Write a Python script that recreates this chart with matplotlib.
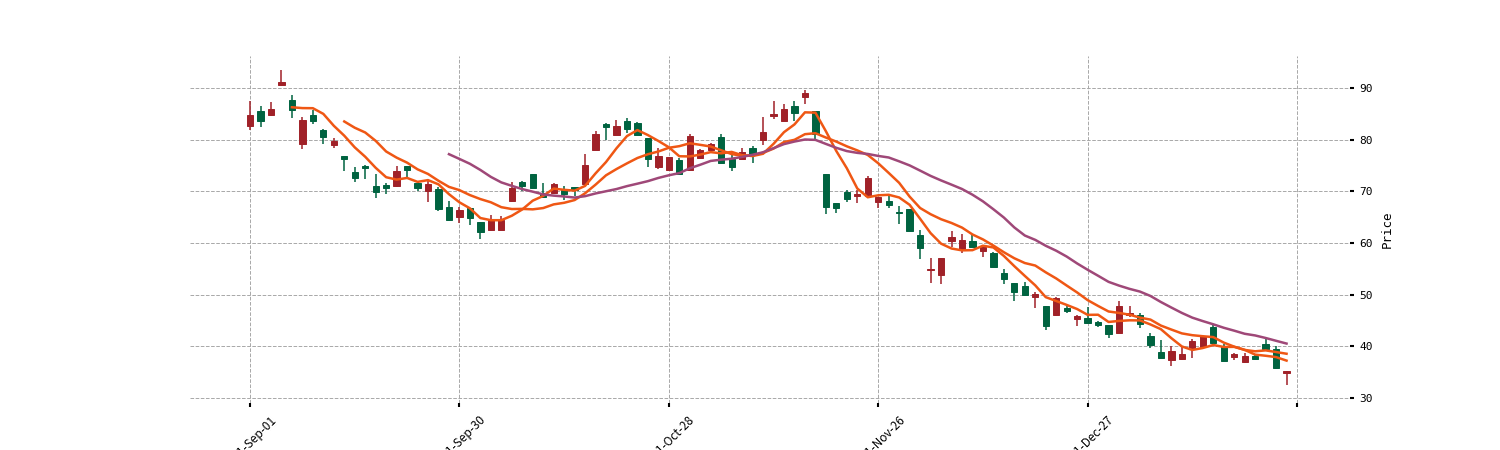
import matplotlib
matplotlib.use("Agg")
import matplotlib.pyplot as plt
import numpy as np
import pandas as pd
from matplotlib.patches import Rectangle

plt.rcParams['font.family'] = ['DejaVu Sans Mono', 'Noto Sans CJK SC', 'DejaVu Sans']

# ---------------- data ----------------
opens = [82.6, 85.6, 84.8, 90.6, 87.7, 79.2, 84.8, 81.8, 78.9, 76.9,
         73.8, 74.9, 71.1, 71.2, 71.1, 74.9, 71.6, 70.0, 70.5, 66.9,
         65.0, 66.8, 64.1, 62.6, 62.6, 68.1, 71.8, 73.3, 69.6, 69.7,
         70.2, 70.9, 71.5, 78.1, 83.1, 80.9, 83.6, 83.2, 80.3, 74.7,
         74.2, 76.0, 74.1, 76.5, 78.1, 80.5, 76.3, 76.3, 78.3, 79.9,
         84.5, 83.7, 86.6, 88.2, 85.5, 73.3, 67.8, 69.9, 69.1, 69.2,
         67.9, 68.1, 66.1, 66.5, 61.6, 54.8, 53.8, 60.4, 58.9, 60.4,
         58.5, 58.1, 54.2, 52.3, 51.7, 49.5, 47.8, 46.0, 47.4, 45.2,
         45.5, 44.8, 44.1, 42.6, 46.0, 46.0, 42.1, 38.9, 37.3, 37.6,
         39.5, 39.9, 43.7, 40.0, 37.9, 37.0, 38.1, 40.4, 39.5, 34.9]
closes = [84.7, 83.7, 86.0, 91.2, 85.8, 83.9, 83.6, 80.5, 79.7, 76.2,
          72.6, 74.5, 69.8, 70.6, 73.9, 74.2, 70.7, 71.5, 66.5, 64.4,
          66.3, 64.9, 62.1, 64.4, 64.4, 70.6, 71.0, 70.6, 69.0, 71.5,
          69.4, 70.2, 75.2, 81.1, 82.5, 82.7, 82.0, 81.0, 76.3, 76.8,
          76.6, 73.3, 80.8, 78.1, 79.2, 75.4, 74.7, 77.6, 77.3, 81.4,
          85.0, 86.0, 85.1, 89.0, 81.1, 67.0, 66.8, 68.5, 69.4, 72.6,
          68.9, 67.3, 65.9, 62.3, 59.1, 55.0, 57.1, 61.2, 60.5, 59.3,
          59.3, 55.4, 53.0, 50.6, 49.9, 50.1, 44.0, 49.3, 46.8, 45.9,
          44.5, 44.1, 42.3, 47.8, 46.5, 44.4, 40.2, 37.7, 39.1, 38.5,
          41.0, 42.1, 40.6, 37.2, 38.6, 38.1, 37.5, 39.5, 35.9, 35.2]
highs = [87.4, 86.5, 87.3, 93.5, 88.7, 84.4, 85.8, 82.1, 80.3, 76.9,
         74.7, 75.1, 73.4, 71.6, 74.9, 74.9, 72.0, 72.0, 70.8, 68.1,
         66.9, 66.8, 64.1, 65.5, 65.2, 71.8, 72.1, 73.3, 71.7, 71.6,
         71.0, 70.9, 77.3, 81.6, 83.2, 83.9, 84.2, 83.4, 80.3, 78.4,
         76.6, 76.5, 81.2, 78.2, 79.4, 81.2, 77.1, 78.4, 78.7, 84.4,
         87.4, 86.9, 87.4, 89.6, 85.5, 73.3, 67.8, 70.2, 70.2, 72.9,
         68.9, 69.2, 67.1, 66.5, 62.6, 57.1, 57.1, 62.3, 61.8, 61.5,
         59.6, 58.3, 54.9, 52.3, 52.5, 50.6, 47.8, 49.6, 47.9, 46.0,
         47.6, 45.0, 44.1, 48.8, 47.9, 46.5, 42.6, 41.2, 40.0, 39.9,
         41.5, 42.1, 44.1, 40.5, 38.7, 38.7, 38.6, 41.7, 40.0, 35.2]
lows = [81.8, 82.5, 84.5, 90.4, 84.2, 78.2, 83.0, 79.2, 78.4, 74.0,
        71.8, 72.4, 68.8, 69.5, 70.9, 72.3, 70.0, 68.0, 66.2, 64.2,
        63.9, 63.4, 60.7, 62.3, 62.6, 67.9, 70.0, 70.6, 68.8, 69.4,
        68.3, 69.1, 71.5, 78.0, 79.9, 80.9, 81.3, 81.0, 74.7, 74.4,
        74.1, 73.1, 74.1, 76.3, 77.8, 75.4, 73.9, 76.2, 75.5, 78.9,
        84.0, 83.7, 83.7, 86.9, 80.2, 65.7, 65.8, 67.9, 67.8, 68.9,
        66.7, 66.7, 63.6, 62.3, 57.0, 52.2, 52.1, 59.3, 58.0, 59.3,
        57.3, 55.3, 52.1, 48.8, 49.7, 47.4, 43.2, 45.8, 46.5, 43.9,
        44.4, 43.7, 41.7, 42.6, 45.7, 43.6, 39.7, 37.7, 36.1, 37.3,
        37.8, 39.7, 40.5, 37.2, 37.4, 36.8, 37.5, 39.4, 35.7, 32.5]

mav_windows = [5, 10, 20]
mav_colors = ['#ef5714', '#ef5714', '#9f4878']
up_color = '#a02128'
down_color = '#006340'

# NYSE trading days from 2021-09-01
holidays = ['2021-09-06', '2021-11-25', '2021-12-24']
dates = pd.bdate_range('2021-09-01', periods=len(closes) + 1, freq='C',
                       holidays=holidays)
tick_step = 20

# ---------------- figure ----------------
fig = plt.figure(figsize=(15, 4.5), dpi=100)
ax = fig.add_axes([0.1267, 0.1044, 0.7733, 0.7711])

n = len(closes)
xs = np.arange(n)
body_w = 0.6
for i in range(n):
    o, c, h, l = opens[i], closes[i], highs[i], lows[i]
    col = up_color if c >= o else down_color
    ax.vlines(i, l, h, color=col, linewidth=1.1, zorder=2)
    ax.add_patch(Rectangle((i - body_w / 2, min(o, c)), body_w, abs(c - o),
                           facecolor=col, edgecolor=col, linewidth=0.7,
                           zorder=3))

cs = pd.Series(closes)
for w, col in zip(mav_windows, mav_colors):
    ma = cs.rolling(w).mean()
    ax.plot(xs, ma.values, color=col, linewidth=1.8, zorder=4)

ax.set_xlim(-5.73, 105.06)
ax.set_ylim(29.03, 96.2)

ticks = list(range(0, n + 1, tick_step))
labels = [dates[t].strftime('%Y-%b-%d') if t < n else '' for t in ticks]
ax.set_xticks(ticks)
ax.set_xticklabels(labels, rotation=45, ha='center', fontsize=8.5,
                   family=['Noto Sans CJK SC', 'DejaVu Sans'])

ax.yaxis.tick_right()
ax.yaxis.set_label_position('right')
ax.set_yticks([30, 40, 50, 60, 70, 80, 90])
ax.tick_params(axis='y', labelsize=8, length=3, width=1.5, color='black')
ax.tick_params(axis='x', length=3, width=1.5, color='black', pad=4.5)
ax.set_ylabel('Price', fontsize=9, labelpad=6)

for sp in ax.spines.values():
    sp.set_visible(False)
ax.grid(True, linestyle='--', color='#a8a8a8', linewidth=0.7)
ax.set_axisbelow(True)

fig.savefig('out.png', dpi=100)
